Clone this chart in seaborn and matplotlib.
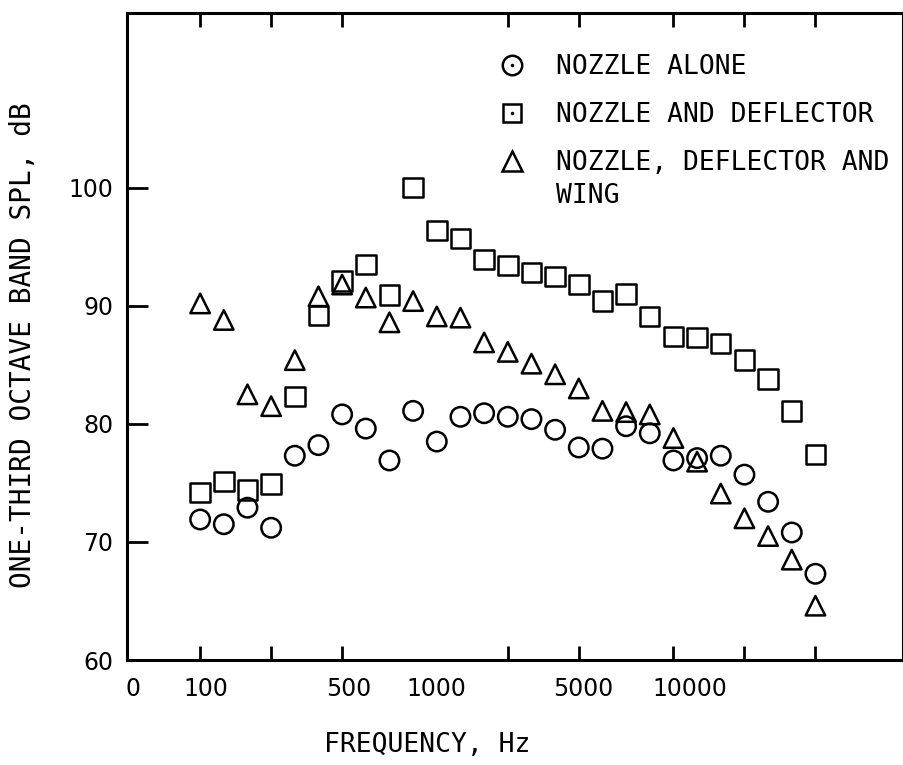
import numpy as np
import pandas as pd
import matplotlib
matplotlib.use("Agg")
import matplotlib.pyplot as plt
import seaborn as sns
from matplotlib.lines import Line2D

# ---------------- data ----------------
BAND_HZ = [100, 125, 160, 200, 250, 315, 400, 500, 630, 800, 1000, 1250, 1600,
           2000, 2500, 3150, 4000, 5000, 6300, 8000, 10000, 12500, 16000,
           20000, 25000, 31500, 40000]

SERIES = ["NOZZLE ALONE", "NOZZLE AND DEFLECTOR", "NOZZLE, DEFLECTOR AND WING"]

NOZZLE_ALONE = [71.9, 71.5, 72.9, 71.2, 77.3, 78.2, 80.8, 79.6, 76.9, 81.1,
                78.5, 80.6, 80.9, 80.6, 80.4, 79.5, 78.0, 77.9, 79.8, 79.2,
                76.9, 77.1, 77.3, 75.7, 73.4, 70.8, 67.3]

NOZZLE_DEFLECTOR = [74.2, 75.1, 74.4, 74.9, 82.3, 89.2, 92.1, 93.5, 90.9, 100.0,
                    96.4, 95.7, 93.9, 93.4, 92.8, 92.5, 91.8, 90.4, 91.0, 89.1,
                    87.4, 87.3, 86.8, 85.4, 83.8, 81.1, 77.4]

NOZZLE_DEFLECTOR_WING = [90.2, 88.8, 82.5, 81.5, 85.4, 90.8, 91.8, 90.7, 88.6, 90.4,
                         89.1, 89.0, 86.9, 86.1, 85.1, 84.2, 83.0, 81.1, 81.0, 80.8,
                         78.8, 76.8, 74.1, 72.0, 70.5, 68.5, 64.6]

XTICK_LABELS = ["0", "100", "500", "1000", "5000", "10000"]
YTICKS = [60, 70, 80, 90, 100]

# ---------------- build frame ----------------
band_idx = np.arange(len(BAND_HZ))
df = pd.concat([
    pd.DataFrame({"band": band_idx, "freq": BAND_HZ, "spl": vals, "config": name})
    for name, vals in zip(SERIES, [NOZZLE_ALONE, NOZZLE_DEFLECTOR, NOZZLE_DEFLECTOR_WING])
], ignore_index=True)

sns.set_theme(style="white")
plt.rcParams["font.family"] = ["DejaVu Sans"]
plt.rcParams["text.color"] = "black"
plt.rcParams["axes.labelcolor"] = "black"
plt.rcParams["xtick.color"] = "black"
plt.rcParams["ytick.color"] = "black"

W, H = 904, 765
fig = plt.figure(figsize=(W / 100, H / 100), dpi=100)
ax = fig.add_axes([127 / W, 105 / H, 776 / W, 647 / H])

MS = 14
LW = 1.8
markers = {SERIES[0]: "o", SERIES[1]: "s", SERIES[2]: "^"}
sns.scatterplot(data=df, x="band", y="spl", style="config", markers=markers,
                s=MS ** 2, facecolor="none", edgecolor="black", linewidth=LW,
                legend=False, ax=ax, zorder=3)

ax.set_xlim(-3.09, 29.7)
ax.set_ylim(60, 114.8)

# spines
for sp in ax.spines.values():
    sp.set_visible(True)
    sp.set_linewidth(2.2)
    sp.set_color("black")

# x ticks: marks every third band (minor), labels (major, no mark)
tick_bands = [0, 3, 6, 10, 13, 16, 20, 23, 26]
label_pos = [-2.83, 0.25, 6.27, 10.0, 16.2, 20.7]
ax.set_xticks(label_pos)
ax.set_xticklabels(XTICK_LABELS)
ax.set_xticks(tick_bands, minor=True)
ax.tick_params(axis="x", which="major", length=0, pad=12, labelsize=17, labelcolor="black")
ax.tick_params(axis="x", which="minor", direction="in", length=10, width=2,
               top=True, bottom=True, color="black")
ax.tick_params(axis="x", which="major", top=False, labeltop=False)

# y ticks
ax.set_yticks(YTICKS)
ax.set_yticklabels([str(v) for v in YTICKS])
ax.tick_params(axis="y", which="major", direction="in", length=15, width=2,
               left=True, right=False, pad=10, labelsize=17, color="black",
               labelcolor="black")
# right side short ticks
ax.set_yticks([70, 80, 90, 100], minor=True)
ax.tick_params(axis="y", which="minor", direction="in", length=9, width=2,
               left=False, right=True, color="black")

mono = {"family": "DejaVu Sans Mono", "size": 19, "color": "black"}

ax.set_xlabel("FREQUENCY, Hz", fontdict=mono, va="center")
ax.xaxis.set_label_coords((427.5 - 127) / 776, (660 - 745) / 647)
ax.set_ylabel("ONE-THIRD OCTAVE BAND SPL, dB",
              fontdict={"family": "DejaVu Sans Mono", "size": 20, "color": "black"},
              va="center", ha="center")
ax.yaxis.set_label_coords((23 - 127) / 776, (660 - 345) / 647)

# legend
def dot():
    return Line2D([], [], ls="none", marker=".", ms=3, color="black")

h1 = (Line2D([], [], ls="none", marker="o", ms=MS, mfc="none", mec="black", mew=LW), dot())
h2 = (Line2D([], [], ls="none", marker="s", ms=MS - 1, mfc="none", mec="black", mew=LW), dot())
h3 = Line2D([], [], ls="none", marker="^", ms=MS, mfc="none", mec="black", mew=LW)
leg = ax.legend([h1, h2, h3], ["NOZZLE ALONE", "NOZZLE AND DEFLECTOR", "NOZZLE, DEFLECTOR AND"],
                prop={"family": "DejaVu Sans Mono", "size": 19}, frameon=False,
                loc="upper left", bbox_to_anchor=((499 - 127) / 776, (660 - 54) / 647),
                borderpad=0, borderaxespad=0, handlelength=1.0, handletextpad=1.15,
                labelspacing=0.83, labelcolor="black")
ax.text((555.8 - 127) / 776, (660 - 196) / 647, "WING", transform=ax.transAxes,
        ha="left", va="center", fontfamily="DejaVu Sans Mono", fontsize=19, color="black")

fig.savefig("out.png", dpi=100, facecolor="white")
